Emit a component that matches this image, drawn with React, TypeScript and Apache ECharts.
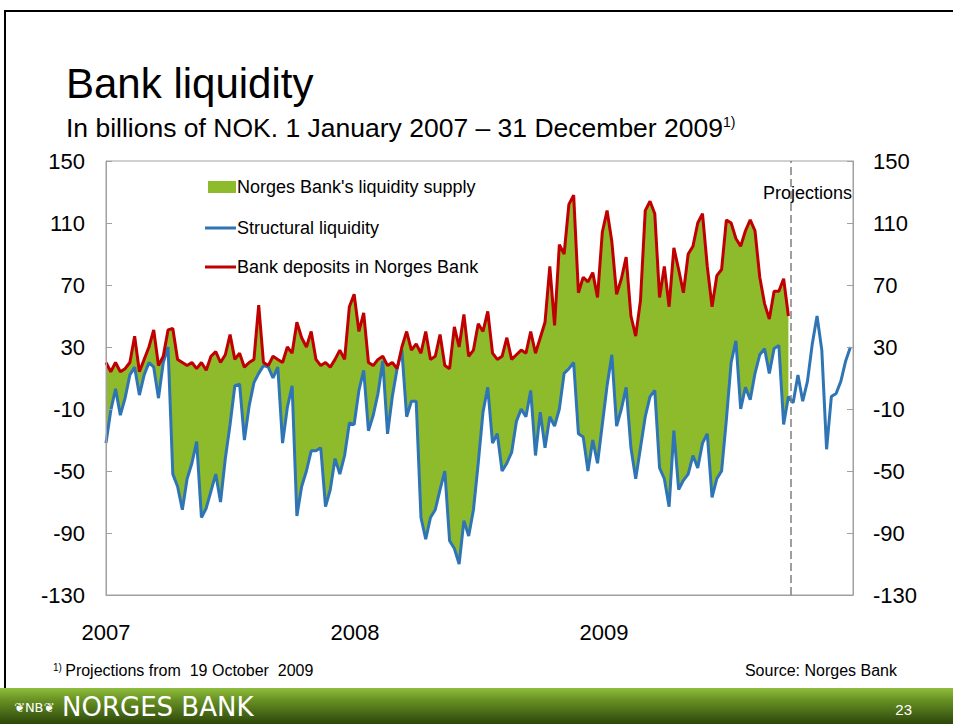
import React, { useEffect, useRef } from 'react';
import * as echarts from 'echarts';

// ---- data (weekly readings, starting 1 January 2007) ----
const yearLabels = ['2007', '2008', '2009'];
const yTickLabels = [-130, -90, -50, -10, 30, 70, 110, 150];
const seriesNames = ["Norges Bank's liquidity supply", 'Structural liquidity', 'Bank deposits in Norges Bank'];

// Bank deposits in Norges Bank (red), until projections start
const bankDeposits = [
  20, 14, 20, 14, 16, 20, 37, 14, 22, 30, 41, 18, 24, 41, 42, 22, 20, 18, 20, 16, 20, 15, 24, 27, 20, 25,
  38, 22, 26, 17, 20, 22, 57, 20, 18, 24, 22, 20, 30, 26, 46, 36, 30, 40, 22, 18, 20, 17, 22, 28, 22, 56,
  64, 40, 52, 20, 18, 22, 24, 18, 20, 16, 30, 40, 28, 32, 26, 40, 22, 24, 38, 18, 16, 43, 30, 51, 24, 28,
  45, 40, 53, 26, 22, 24, 36, 22, 25, 28, 26, 40, 26, 36, 46, 82, 44, 96, 90, 122, 128, 65, 75, 72, 78, 62,
  104, 118, 98, 64, 74, 88, 50, 37, 60, 118, 124, 116, 62, 82, 56, 94, 80, 65, 90, 95, 110, 116, 82, 56, 76, 80, 112,
  110, 100, 95, 105, 112, 105, 75, 58, 48, 66, 66, 74, 50,
];

// Structural liquidity (blue), incl. projections
const structuralLiquidity = [
  -32, -11, 3, -14, -3, 12, 17, -1, 12, 20, 17, -3, 20, 30, -52, -60, -75, -55, -45, -31, -80, -74, -63, -52, -70, -42,
  -20, 5, 6, -30, -8, 7, 13, 18, 17, 10, 17, -32, -9, 5, -79, -60, -50, -37, -37, -35, -73, -62, -42, -52, -40, -19,
  -20, 2, 15, -24, -14, 0, 21, -26, -2, 16, 28, -15, -5, -5, -80, -94, -80, -75, -62, -50, -95, -100, -110, -82, -92, -75,
  -45, -12, 4, -32, -26, -50, -45, -38, -18, -10, -15, 2, -40, -12, -35, -15, -21, -10, 13, 16, 20, -26, -28, -50, -30, -45,
  -20, 5, 25, -21, -10, 4, -35, -55, -35, -15, -2, 2, -48, -55, -73, -24, -62, -56, -52, -40, -48, -32, -26, -67, -55, -50, -17,
  20, 34, -10, 4, -4, 13, 25, 29, 13, 29, 31, -20, -2, -6, 12, -5, 8, 32, 50, 28, -36, -2, 0, 8, 21, 30,
];

const projectionWeek = 143.4;
const OFFSET = 130; // axis runs -130..150; shifted so ticks fall on multiples of 40

const weekToYear = (i: number) => (i * 7) / 365.25;

const FONT = 'Liberation Sans, Arial, sans-serif';
const GREEN = '#8DBB2C';
const BLUE = '#2F75B5';
const RED = '#C00000';

export default function App() {
  const ref = useRef<HTMLDivElement>(null);

  useEffect(() => {
    document.body.style.margin = '0';
    const chart = echarts.init(ref.current!, null, { renderer: 'svg' });

    const blueData = structuralLiquidity.map((v, i) => [weekToYear(i), v + OFFSET]);
    const redData = bankDeposits.map((v, i) => [weekToYear(i), v + OFFSET]);

    const yAxisCommon = {
      type: 'value',
      min: 0,
      max: 280,
      interval: 40,
      z: 5,
      axisLine: { show: true, lineStyle: { color: '#a0a0a0', width: 1 } },
      axisTick: { show: true, inside: true, length: 6, lineStyle: { color: '#a0a0a0' } },
      splitLine: { show: false },
      axisLabel: {
        fontSize: 22,
        fontFamily: FONT,
        color: '#000',
        margin: 21,
        formatter: (v: number) => String(yTickLabels[Math.round(v / 40)]),
      },
    };

    chart.setOption({
      animation: false,
      backgroundColor: '#ffffff',
      grid: {
        left: 106,
        top: 161,
        right: 100,
        bottom: 129,
        show: true,
        z: 5,
        backgroundColor: 'transparent',
        borderColor: '#a0a0a0',
        borderWidth: 1,
        containLabel: false,
      },
      xAxis: {
        type: 'value',
        min: 0,
        max: 3,
        interval: 1,
        z: 5,
        axisLine: { show: true, lineStyle: { color: '#a0a0a0' } },
        axisTick: { show: false },
        splitLine: { show: false },
        axisLabel: {
          fontSize: 22,
          fontFamily: FONT,
          color: '#000',
          margin: 26,
          showMaxLabel: false,
          formatter: (v: number) => yearLabels[Math.round(v)] ?? '',
        },
      },
      yAxis: [
        { ...yAxisCommon, position: 'left' },
        { ...yAxisCommon, position: 'right', axisLabel: { ...yAxisCommon.axisLabel, margin: 20 } },
      ],
      series: [
        // liquidity supply: filled between deposits (top) and structural liquidity (masked below)
        {
          name: seriesNames[0],
          type: 'line',
          data: redData,
          symbol: 'none',
          silent: true,
          lineStyle: { width: 0, opacity: 0 },
          areaStyle: { color: GREEN, opacity: 1, origin: 'start' },
          z: 1,
        },
        {
          name: seriesNames[1],
          type: 'line',
          data: blueData,
          symbol: 'none',
          lineStyle: { color: BLUE, width: 3 },
          areaStyle: { color: '#ffffff', opacity: 1, origin: 'start' },
          z: 2,
        },
        {
          name: seriesNames[2],
          type: 'line',
          data: redData,
          symbol: 'none',
          lineStyle: { color: RED, width: 3 },
          z: 3,
          markLine: {
            silent: true,
            symbol: ['none', 'none'],
            label: { show: false },
            lineStyle: { color: '#808080', width: 1.5, type: [8, 4] },
            data: [{ xAxis: weekToYear(projectionWeek) }],
          },
        },
      ],
      graphic: [
        // slide frame
        {
          type: 'polyline',
          shape: { points: [[5, 690], [5, 11], [953, 11]] },
          style: { stroke: '#000', lineWidth: 2, fill: 'none' },
        },
        // title
        {
          type: 'text',
          x: 66,
          y: 83,
          style: { text: 'Bank liquidity', fontSize: 42, fontFamily: FONT, fill: '#000', textVerticalAlign: 'middle' },
        },
        {
          type: 'text',
          x: 66,
          y: 128,
          style: {
            text: '{a|In billions of NOK. 1 January 2007 – 31 December 2009}{s|1)}',
            fontFamily: FONT,
            fill: '#000',
            textVerticalAlign: 'middle',
            rich: {
              a: { fontSize: 26.5, fontFamily: FONT, fill: '#000' },
              s: { fontSize: 14, fontFamily: FONT, fill: '#000', verticalAlign: 'top' },
            },
          },
        },
        // legend
        { type: 'rect', shape: { x: 208, y: 181, width: 28, height: 12 }, style: { fill: GREEN } },
        {
          type: 'text', x: 237, y: 187,
          style: { text: seriesNames[0], fontSize: 18, fontFamily: FONT, fill: '#000', textVerticalAlign: 'middle' },
        },
        { type: 'line', shape: { x1: 205, y1: 228, x2: 236, y2: 228 }, style: { stroke: BLUE, lineWidth: 3 } },
        {
          type: 'text', x: 237, y: 228,
          style: { text: seriesNames[1], fontSize: 18, fontFamily: FONT, fill: '#000', textVerticalAlign: 'middle' },
        },
        { type: 'line', shape: { x1: 205, y1: 267, x2: 236, y2: 267 }, style: { stroke: RED, lineWidth: 3 } },
        {
          type: 'text', x: 237, y: 267,
          style: { text: seriesNames[2], fontSize: 18, fontFamily: FONT, fill: '#000', textVerticalAlign: 'middle' },
        },
        // projections label
        {
          type: 'text', x: 852, y: 193,
          style: { text: 'Projections', fontSize: 18, fontFamily: FONT, fill: '#000', textAlign: 'right', textVerticalAlign: 'middle' },
        },
        // footnote & source
        {
          type: 'text', x: 53, y: 670,
          style: {
            text: '{s|1)} {a|Projections from  19 October  2009}',
            textVerticalAlign: 'middle',
            rich: {
              a: { fontSize: 16, fontFamily: FONT, fill: '#000' },
              s: { fontSize: 10, fontFamily: FONT, fill: '#000', verticalAlign: 'top' },
            },
          },
        },
        {
          type: 'text', x: 897, y: 670,
          style: { text: 'Source: Norges Bank', fontSize: 16, fontFamily: FONT, fill: '#000', textAlign: 'right', textVerticalAlign: 'middle' },
        },
        // bottom band
        {
          type: 'rect',
          shape: { x: 0, y: 688, width: 953, height: 36 },
          style: {
            fill: new echarts.graphic.LinearGradient(0, 0, 0, 1, [
              { offset: 0, color: '#8fbd3c' },
              { offset: 0.35, color: '#668f22' },
              { offset: 1, color: '#2c460b' },
            ]),
          },
        },
        {
          type: 'text', x: 14, y: 707,
          style: { text: '❦NB❦', fontSize: 13, fontFamily: 'DejaVu Sans', fill: '#ffffff', textVerticalAlign: 'middle' },
        },
        {
          type: 'text', x: 62, y: 707,
          style: { text: 'NORGES BANK', fontSize: 26, fontFamily: 'DejaVu Sans', fill: '#ffffff', textVerticalAlign: 'middle' },
        },
        {
          type: 'text', x: 912, y: 709,
          style: { text: '23', fontSize: 15, fontFamily: FONT, fill: '#ffffff', textAlign: 'right', textVerticalAlign: 'middle' },
        },
      ],
    });

    return () => chart.dispose();
  }, []);

  return (
    <div
      ref={ref}
      style={{ position: 'fixed', left: 0, top: 0, width: 953, height: 724, background: '#ffffff' }}
    />
  );
}
